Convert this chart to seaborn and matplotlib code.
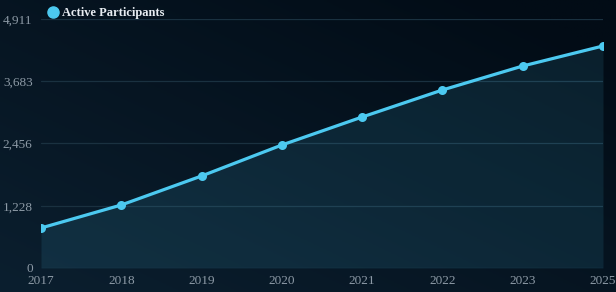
import numpy as np
import pandas as pd
import matplotlib
matplotlib.use("Agg")
import matplotlib.pyplot as plt
from matplotlib.lines import Line2D
import seaborn as sns

# data
years = ["2017", "2018", "2019", "2020", "2021", "2022", "2023", "2025"]
participants = [789, 1243, 1815, 2426, 2978, 3511, 3984, 4379]
y_ticks = [0, 1228, 2456, 3683, 4911]

df = pd.DataFrame({"year": years, "participants": participants})

sns.set_theme(style="dark")
plt.rcParams["font.family"] = ["Liberation Serif", "DejaVu Serif"]

line_color = "#4cc9f0"
text_color = "#8d9aa6"

fig = plt.figure(figsize=(6.16, 2.92), dpi=100)

# gradient background
bg = fig.add_axes([0, 0, 1, 1], zorder=-10)
gx, gy = np.meshgrid(np.linspace(0, 1, 200), np.linspace(0, 1, 100))
t = np.clip(0.55 * gx + 0.55 * (1 - gy), 0, 1)
c0 = np.array([0x0b, 0x1f, 0x2f]) / 255
c1 = np.array([0x02, 0x0c, 0x16]) / 255
img = c0[None, None, :] * (1 - t[..., None]) + c1[None, None, :] * t[..., None]
bg.imshow(img[::-1], aspect="auto", extent=[0, 1, 0, 1], origin="lower")
bg.axis("off")

ax = fig.add_axes([41 / 616, 24 / 292, 562 / 616, 249 / 292])
ax.set_facecolor("none")

x = np.arange(len(years))
ax.fill_between(x, participants, 0, color=line_color, alpha=0.11, linewidth=0, zorder=1)
sns.lineplot(data=df, x="year", y="participants", ax=ax, color=line_color,
             linewidth=2.3, marker="o", markersize=6.5, markeredgewidth=0, zorder=3)

ax.set_xlim(0, len(years) - 1)
ax.set_ylim(0, y_ticks[-1])
ax.set_yticks(y_ticks)
ax.set_yticklabels([f"{v:,}" for v in y_ticks])
ax.set_xticks(x)
ax.set_xticklabels(years)
ax.set_xlabel("")
ax.set_ylabel("")
ax.tick_params(axis="both", colors=text_color, labelsize=9.5, length=0)
ax.tick_params(axis="y", pad=6)
ax.tick_params(axis="x", pad=5)
ax.grid(axis="y", color="#1a3140", linewidth=0.9)
ax.grid(axis="x", visible=False)
for s in ax.spines.values():
    s.set_visible(False)

handle = Line2D([], [], color=line_color, marker="o", linestyle="none", markersize=8)
leg = ax.legend([handle], ["Active Participants"], loc="lower left",
                bbox_to_anchor=(0.012, 1.0), frameon=False, handletextpad=0.35,
                handlelength=0.8, borderaxespad=0, borderpad=0,
                prop={"weight": "bold", "size": 9})
for txt in leg.get_texts():
    txt.set_color("#e8edf2")

fig.savefig("out.png", dpi=100)
